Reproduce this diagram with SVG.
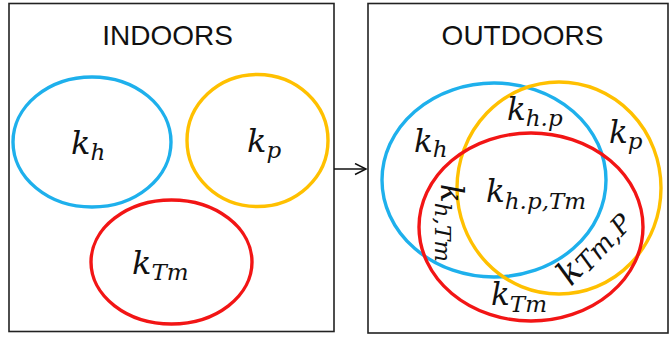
<svg xmlns="http://www.w3.org/2000/svg" width="670" height="339" viewBox="0 0 670 339">
<style>
.box{fill:#fff;stroke:#222;stroke-width:1.6}
.title{font-family:"Liberation Sans",Arial,sans-serif;font-size:28px;fill:#111;text-anchor:middle}
.c{fill:none;stroke-width:3.4}
.blue{stroke:#1EB0EC}
.orange{stroke:#FFC000}
.red{stroke:#F21515}
.m{font-family:"DejaVu Serif",serif;font-style:italic;fill:#111}
.L{font-size:32px}
.R{font-size:31px}
.s{font-size:23px}
.cn{stroke:#111;stroke-width:1.5;fill:none}
</style>
<defs>
<marker id="arr" markerUnits="userSpaceOnUse" markerWidth="14" markerHeight="14" refX="12" refY="6" orient="auto">
<path d="M1,0.5 L12,6 L1,11.5" fill="none" stroke="#111" stroke-width="1.5"/>
</marker>
</defs>
<g id="indoors">
<rect class="box" x="9" y="3.5" width="325" height="328"/>
<text class="title" x="167.5" y="45">INDOORS</text>
</g>
<g id="outdoors">
<rect class="box" x="368" y="3.5" width="300" height="329.5"/>
<text class="title" x="522.5" y="45">OUTDOORS</text>
</g>
<g id="in-kh">
<ellipse class="c blue" cx="92" cy="142" rx="79" ry="65"/>
<text class="m L" x="71" y="154">k<tspan class="s" dy="6">h</tspan></text>
</g>
<g id="in-kp">
<ellipse class="c orange" cx="257.5" cy="140.5" rx="70.5" ry="66"/>
<text class="m L" x="247" y="152">k<tspan class="s" dy="6">p</tspan></text>
</g>
<g id="in-kTm">
<ellipse class="c red" cx="171.5" cy="262" rx="80.5" ry="62"/>
<text class="m L" x="132" y="274">k<tspan class="s" dy="6">Tm</tspan></text>
</g>
<g id="out-sets">
<ellipse class="c blue" cx="494" cy="180" rx="112" ry="97"/>
<ellipse class="c orange" cx="559" cy="188" rx="102" ry="106"/>
<ellipse class="c red" cx="531" cy="227" rx="112" ry="94"/>
</g>
<g id="out-labels">
<text class="m R" x="414" y="152">k<tspan class="s" dy="5">h</tspan></text>
<text class="m R" x="507" y="120">k<tspan class="s" dy="6">h.p</tspan></text>
<text class="m R" x="609" y="143">k<tspan class="s" dy="6">p</tspan></text>
<text class="m R" x="486" y="202">k<tspan class="s" dy="7">h.p,Tm</tspan></text>
<text class="m R" transform="translate(441,184) rotate(90)">k<tspan class="s" dy="6">h,Tm</tspan></text>
<text class="m" style="font-size:34px" transform="translate(571,287) rotate(-47)">k<tspan style="font-size:26px" dy="3">Tm,P</tspan></text>
<text class="m R" x="491" y="305">k<tspan class="s" dy="7">Tm</tspan></text>
</g>
<g id="connectors">
<line class="cn" x1="334" y1="169" x2="366" y2="169" marker-end="url(#arr)"/>
</g>
</svg>
